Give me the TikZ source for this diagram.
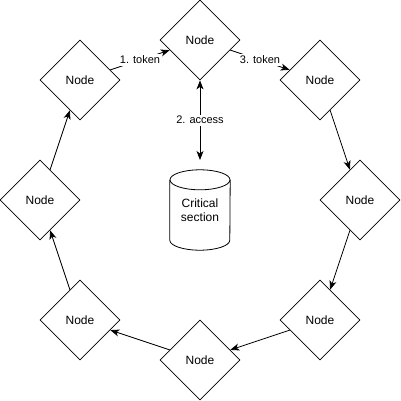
\documentclass[tikz,border=0pt]{standalone}
\usepackage{fontspec}
\setmainfont{Liberation Sans}
\usetikzlibrary{shapes.geometric,arrows.meta}

\begin{document}
\begin{tikzpicture}[x=1pt,y=-1pt]
\tikzstyle{every node}+=[inner sep=0pt]
\tikzstyle{peer}=[draw, diamond, minimum width=80pt, minimum height=80pt, line width=0.8pt, font=\fontsize{12}{14}\selectfont]
\tikzstyle{pass}=[draw, line width=0.8pt, -{Stealth[length=9pt,width=7pt,inset=2.5pt]}]
\tikzstyle{tag}=[fill=white, inner sep=1.5pt, font=\fontsize{11}{13}\selectfont]
\useasboundingbox (0,0) rectangle (401,401);
% ring of nodes
\node [peer] (tl) at (80,80) {Node};
\node [peer] (top) at (200,40) {Node};
\node [peer] (tr) at (320,80) {Node};
\node [peer] (right) at (360,200) {Node};
\node [peer] (br) at (320,320) {Node};
\node [peer] (bottom) at (200,360) {Node};
\node [peer] (bl) at (80,320) {Node};
\node [peer] (left) at (40,200) {Node};
% shared resource (body of the cylinder, caps drawn below)
\node [minimum width=60pt, minimum height=60pt, align=center, font=\fontsize{12}{14}\selectfont] (cs) at (200,210) {Critical\\section};
\coordinate (cstop) at (200,160);
\draw [line width=0.8pt] (cs.north) ellipse [x radius=30pt, y radius=10pt];
\draw [line width=0.8pt] (cs.north west) -- (cs.south west) arc (180:360:30pt and 10pt) -- (cs.north east);
% token passing
\draw [pass] (tl) -- node [tag] {1. token} (top);
\draw [pass] (top) -- node [tag] {3. token} (tr);
\draw [pass] (tr) -- (right);
\draw [pass] (right) -- (br);
\draw [pass] (br) -- (bottom);
\draw [pass] (bottom) -- (bl);
\draw [pass] (bl) -- (left);
\draw [pass] (left) -- (tl);
\draw [pass, {Stealth[length=9pt,width=7pt,inset=2.5pt]}-{Stealth[length=9pt,width=7pt,inset=2.5pt]}] (top) -- node [tag] {2. access} (cstop);
\end{tikzpicture}
\end{document}
